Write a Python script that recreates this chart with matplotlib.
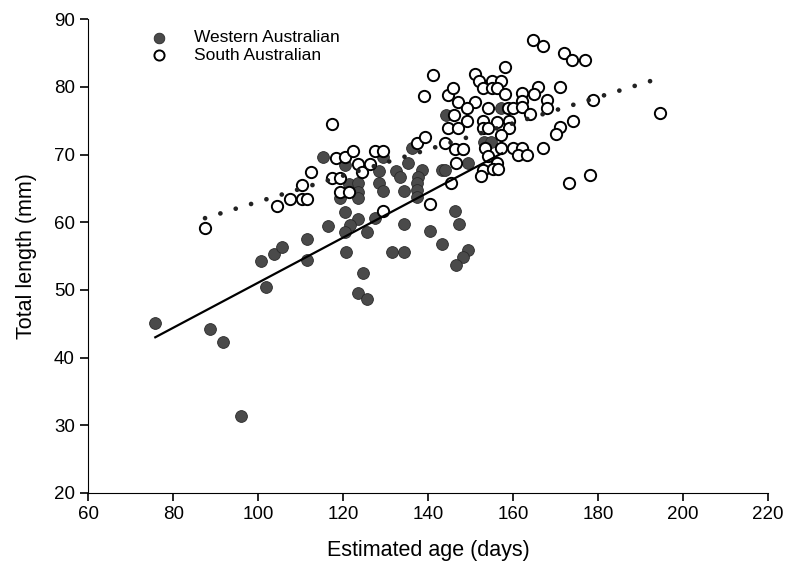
import matplotlib.pyplot as plt

plt.rcParams['font.family'] = ['Liberation Sans', 'DejaVu Sans']

# Western Australian (relleno)
wa_age = [75.8, 88.7, 91.8, 96.0, 100.7, 101.9, 103.8, 105.6, 111.5, 111.5,
          116.5, 115.3, 119.3, 120.5, 121.4, 123.5, 123.5, 123.5, 128.5, 129.4,
          135.3, 132.5, 133.4, 138.6, 137.6, 137.4, 137.4, 137.4, 143.3, 144.0,
          149.4, 136.2, 128.5, 129.4, 134.4, 120.5, 123.5, 127.5, 121.6, 120.5,
          125.6, 134.4, 140.5, 146.4, 147.3, 120.7, 131.5, 134.4, 143.3, 149.4,
          148.2, 146.6, 124.7, 123.5, 125.6, 144.2, 157.2, 153.2, 154.8, 148.2]
wa_len = [45.1, 44.2, 42.3, 31.4, 54.3, 50.4, 55.3, 56.3, 57.5, 54.4,
          59.4, 69.6, 63.6, 68.4, 65.6, 65.8, 64.5, 63.6, 67.6, 69.6,
          68.7, 67.6, 66.7, 67.7, 66.7, 65.8, 64.8, 63.7, 67.7, 67.7,
          68.7, 71.0, 65.8, 64.6, 64.6, 61.5, 60.5, 60.6, 59.6, 58.6,
          58.6, 59.7, 58.7, 61.7, 59.7, 55.6, 55.6, 55.6, 56.8, 55.9,
          54.9, 53.7, 52.5, 49.5, 48.7, 75.8, 76.9, 71.8, 71.8, 70.8]

# South Australian (vacio)
sa_age = [87.5, 104.5, 107.5, 110.4, 111.5, 110.4, 112.5, 117.4, 119.3, 118.4,
          119.3, 117.4, 121.4, 120.5, 122.4, 123.5, 124.5, 126.4, 127.5, 129.4,
          129.4, 140.5, 145.4, 137.4, 144.0, 146.4, 148.2, 146.6, 153.4, 152.9,
          152.5, 141.2, 139.1, 139.3, 144.7, 144.7, 164.7, 167.1, 172.0, 173.9,
          176.9, 158.1, 151.1, 152.0, 155.1, 157.2, 152.9, 155.1, 156.2, 145.9,
          158.1, 165.9, 164.9, 162.1, 162.1, 171.1, 168.0, 168.0, 147.1, 151.1,
          149.2, 154.1, 158.8, 160.0, 162.1, 164.0, 146.1, 149.2, 152.9, 156.2,
          159.1, 147.1, 152.9, 154.1, 159.1, 157.2, 157.2, 160.0, 162.1, 161.2,
          163.3, 167.1, 154.1, 156.2, 155.3, 156.5, 174.1, 171.1, 170.1, 178.1,
          173.2, 178.8, 194.6]
sa_len = [59.1, 62.4, 63.4, 63.4, 63.4, 65.5, 67.4, 66.5, 66.5, 69.5,
          64.5, 74.5, 64.5, 69.6, 70.5, 68.6, 67.4, 68.6, 70.5, 70.5,
          61.7, 62.7, 65.8, 71.7, 71.7, 70.8, 70.8, 68.7, 70.9, 67.7,
          66.8, 81.7, 78.6, 72.6, 73.9, 78.8, 86.9, 86.0, 85.0, 84.0,
          84.0, 82.9, 81.9, 80.9, 80.9, 80.9, 79.8, 79.8, 79.8, 79.8,
          78.9, 80.0, 78.9, 79.1, 77.9, 80.0, 78.1, 76.9, 77.8, 77.8,
          76.9, 76.9, 76.9, 76.9, 77.0, 76.0, 75.8, 74.9, 74.9, 74.8,
          74.9, 73.9, 73.9, 73.9, 73.9, 72.9, 71.0, 71.0, 71.0, 69.9,
          69.9, 71.0, 69.8, 68.7, 67.9, 67.9, 74.9, 74.1, 73.0, 67.0,
          65.8, 78.1, 76.1]

# Rectas de regresion (extremos)
wa_fit_x = [75.8, 157.4]
wa_fit_y = [43.0, 70.2]
sa_fit_x = [87.5, 194.6]
sa_fit_y = [60.6, 81.3]

fig = plt.figure(figsize=(7.87, 5.64), dpi=100)
ax = fig.add_axes([0.112, 0.126, 0.864, 0.840])

ax.plot(wa_fit_x, wa_fit_y, color="black", linewidth=1.6, zorder=3)
ax.plot(sa_fit_x, sa_fit_y, color="#222222", linewidth=3.4,
        linestyle=(0, (0.01, 3.39)), dash_capstyle="round", zorder=3)

ax.scatter(wa_age, wa_len, s=72, facecolor="#4a4a4a", edgecolor="#2a2a2a",
           linewidth=0.6, label="Western Australian", zorder=2)
ax.scatter(sa_age, sa_len, s=66, facecolor="white", edgecolor="black",
           linewidth=1.4, label="South Australian", zorder=2)

ax.set_xlim(60, 220)
ax.set_ylim(20, 90)
ax.set_xticks(range(60, 221, 20))
ax.set_yticks(range(20, 91, 10))
ax.spines["top"].set_visible(False)
ax.spines["right"].set_visible(False)
ax.tick_params(direction="out", length=6, width=1.2, labelsize=13.5)
ax.set_xlabel("Estimated age (days)", fontsize=15.5, labelpad=12)
ax.set_ylabel("Total length (mm)", fontsize=15.5, labelpad=12)

ax.legend(loc="upper left", bbox_to_anchor=(0.056, 1.01), frameon=False,
          fontsize=12.5, handletextpad=1.0, labelspacing=0.15,
          markerscale=0.9)

plt.savefig("out.png", dpi=100)
